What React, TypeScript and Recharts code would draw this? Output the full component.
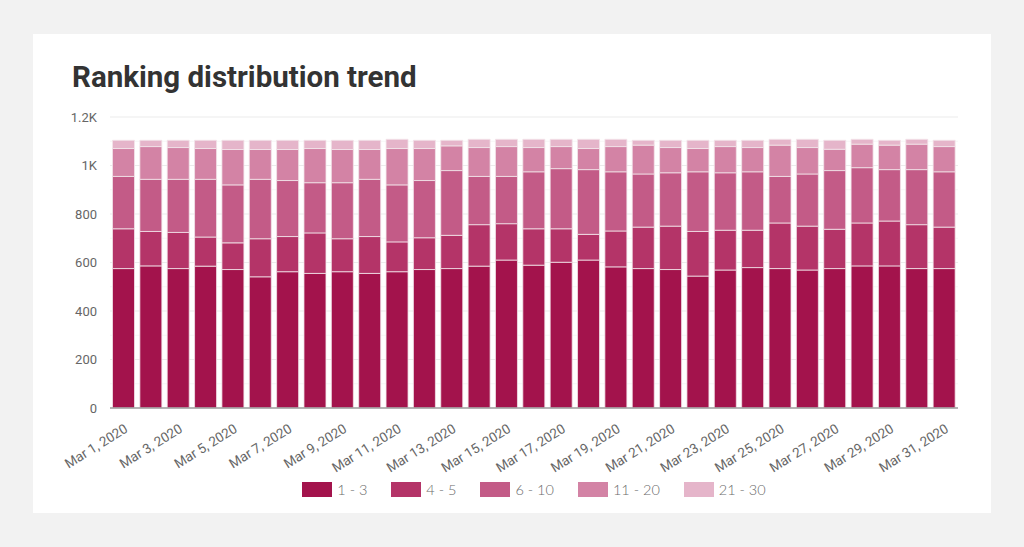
import React from "react";
import { Bar, BarChart, CartesianGrid, Legend, XAxis, YAxis } from "recharts";

const days = [
  "Mar 1, 2020", "Mar 2, 2020", "Mar 3, 2020", "Mar 4, 2020", "Mar 5, 2020", "Mar 6, 2020",
  "Mar 7, 2020", "Mar 8, 2020", "Mar 9, 2020", "Mar 10, 2020", "Mar 11, 2020", "Mar 12, 2020",
  "Mar 13, 2020", "Mar 14, 2020", "Mar 15, 2020", "Mar 16, 2020", "Mar 17, 2020", "Mar 18, 2020",
  "Mar 19, 2020", "Mar 20, 2020", "Mar 21, 2020", "Mar 22, 2020", "Mar 23, 2020", "Mar 24, 2020",
  "Mar 25, 2020", "Mar 26, 2020", "Mar 27, 2020", "Mar 28, 2020", "Mar 29, 2020", "Mar 30, 2020",
  "Mar 31, 2020"
];

const top1to3 = [575, 586, 575, 585, 571, 541, 562, 555, 562, 555, 562, 571, 575, 585, 610, 589, 601, 610, 582, 575, 571, 544, 569, 579, 575, 569, 575, 586, 586, 575, 575];
const top4to5 = [164, 142, 149, 120, 110, 157, 145, 167, 136, 152, 123, 131, 137, 171, 150, 150, 138, 106, 148, 171, 179, 184, 164, 154, 188, 181, 162, 177, 185, 181, 171];
const top6to10 = [216, 215, 219, 238, 239, 245, 231, 207, 231, 236, 235, 236, 267, 199, 195, 235, 248, 267, 244, 219, 220, 246, 237, 241, 192, 215, 242, 228, 212, 227, 228];
const top11to20 = [115, 135, 131, 127, 146, 123, 128, 141, 137, 123, 150, 132, 102, 119, 123, 100, 91, 87, 104, 119, 104, 96, 108, 100, 129, 109, 88, 97, 101, 105, 104];
const top21to30 = [34, 26, 30, 34, 38, 38, 38, 34, 38, 38, 38, 34, 23, 34, 30, 34, 30, 38, 30, 20, 30, 34, 26, 30, 24, 34, 37, 20, 20, 20, 26];

const seriesNames = ["1 - 3", "4 - 5", "6 - 10", "11 - 20", "21 - 30"];
const seriesColors = ["#a3134c", "#b43468", "#c35b87", "#d383a5", "#e5b5ca"];
const yTicks = [0, 200, 400, 600, 800, 1000, 1200];
const minorTicks = [100, 300, 500, 700, 900, 1100];

const seriesValues = [top1to3, top4to5, top6to10, top11to20, top21to30];

const data = days.map((day, i) => {
  const row: Record<string, string | number> = { day };
  seriesNames.forEach((name, s) => {
    row[name] = seriesValues[s][i];
  });
  return row;
});

const formatY = (v: number) => (v >= 1000 ? `${v / 1000}K` : `${v}`);

function LegendRow() {
  return (
    <div style={{ display: "flex", justifyContent: "center", alignItems: "center", fontFamily: "Lato, sans-serif", fontSize: 14.5, fontWeight: 300, color: "#6b6b6b" }}>
      {seriesNames.map((name, i) => (
        <div key={name} style={{ display: "flex", alignItems: "center", marginRight: i < seriesNames.length - 1 ? 24 : 0 }}>
          <span style={{ display: "inline-block", width: 30, height: 15, background: seriesColors[i], marginRight: 5 }} />
          <span>{name}</span>
        </div>
      ))}
    </div>
  );
}

export default function App() {
  return (
    <div style={{ position: "absolute", left: 0, top: 0, width: 1024, height: 547, background: "#f2f2f2" }}>
      <div style={{ position: "absolute", left: 33, top: 34, width: 958, height: 479, background: "#ffffff" }}>
        <div
          style={{
            position: "absolute",
            left: 39,
            top: 26,
            fontFamily: "Roboto, sans-serif",
            fontWeight: 700,
            fontSize: 29.5,
            lineHeight: "34px",
            color: "#333333"
          }}
        >
          Ranking distribution trend
        </div>
        <BarChart
          width={958}
          height={479}
          data={data}
          margin={{ top: 83, right: 33, left: 17, bottom: 45 }}
          barCategoryGap={2.5}
        >
          <CartesianGrid horizontalValues={minorTicks} vertical={false} stroke="#f6f6f6" />
          <CartesianGrid horizontalValues={yTicks} vertical={false} stroke="#ebebeb" />
          <XAxis
            dataKey="day"
            interval={1}
            angle={-32}
            textAnchor="end"
            height={60}
            tickLine={false}
            axisLine={{ stroke: "#9e9e9e", strokeWidth: 1.5 }}
            tick={{ fill: "#666666", fontSize: 13.5, fontFamily: "Roboto, sans-serif" }}
            tickMargin={9}
          />
          <YAxis
            width={60}
            domain={[0, 1200]}
            ticks={yTicks}
            tickFormatter={formatY}
            axisLine={false}
            tickLine={false}
            tickMargin={7}
            tick={{ fill: "#666666", fontSize: 13, fontFamily: "Roboto, sans-serif" }}
          />
          <Legend
            verticalAlign="middle"
            align="center"
            wrapperStyle={{ top: 447, left: 77, width: 848 }}
            content={() => <LegendRow />}
          />
          {seriesNames.map((name, i) => (
            <Bar
              key={name}
              dataKey={name}
              stackId="rank"
              fill={seriesColors[i]}
              stroke="#f3e4ea"
              strokeWidth={0.8}
              isAnimationActive={false}
            />
          ))}
        </BarChart>
      </div>
    </div>
  );
}
